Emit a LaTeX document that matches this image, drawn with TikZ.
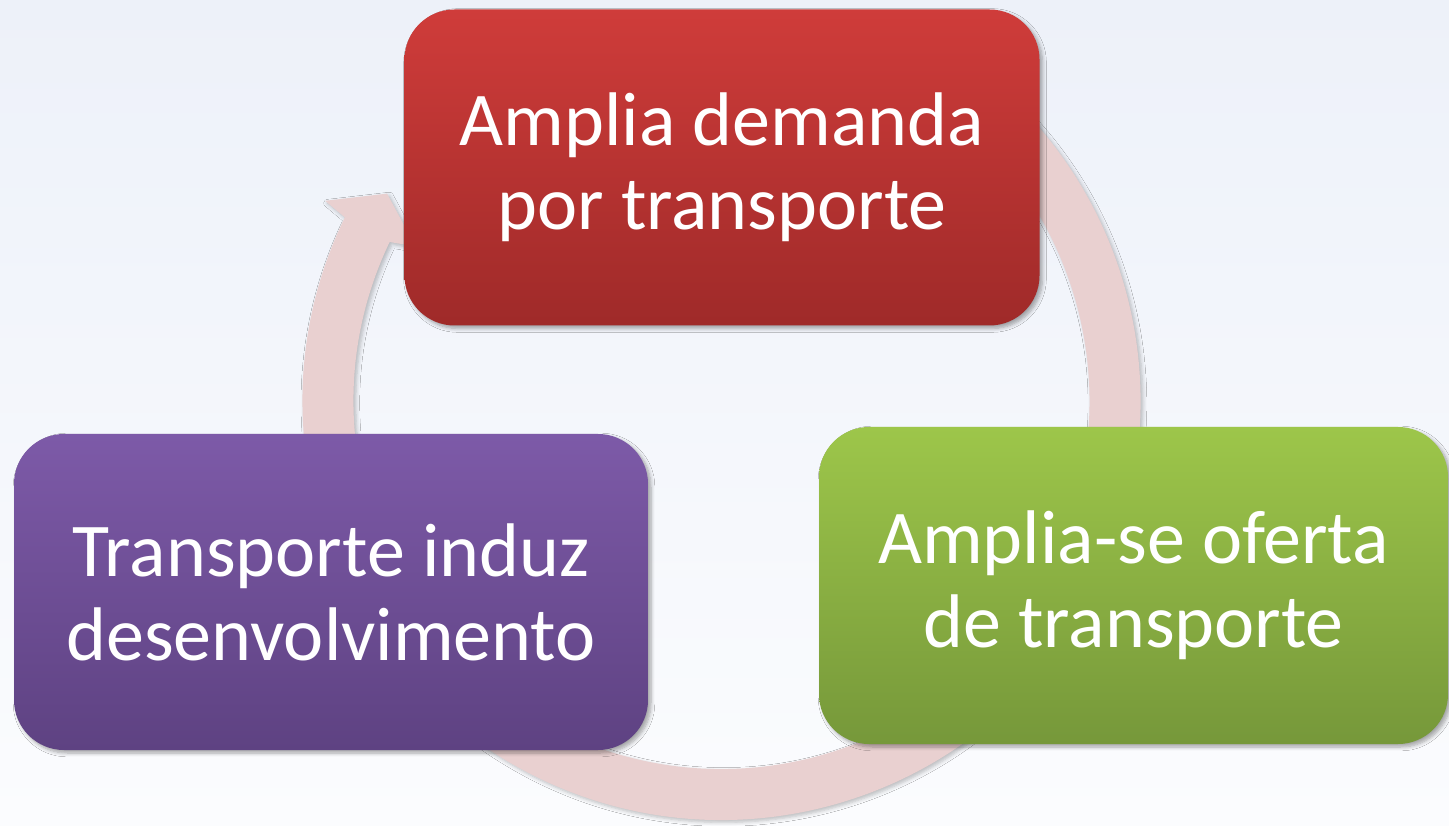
\documentclass[tikz,border=0pt]{standalone}
\usepackage{fontspec}
\setmainfont{Carlito}
\usetikzlibrary{shadows.blur}
\definecolor{bgT}{RGB}{237,241,249}
\definecolor{bgB}{RGB}{251,252,254}
\definecolor{ringc}{RGB}{233,208,208}
\definecolor{redT}{RGB}{207,60,58}
\definecolor{redB}{RGB}{159,42,41}
\definecolor{greenT}{RGB}{157,198,74}
\definecolor{greenB}{RGB}{118,152,58}
\definecolor{purpT}{RGB}{125,90,168}
\definecolor{purpB}{RGB}{94,66,130}
\tikzset{
  cyclebox/.style={rounded corners=25pt, inner sep=0pt, align=center, text=white,
    font=\fontsize{38}{42}\selectfont,
    blur shadow={shadow xshift=1.5pt, shadow yshift=-1.5pt, shadow blur steps=6, shadow opacity=35}},
  ringstyle/.style={fill=ringc,
    blur shadow={shadow xshift=1.2pt, shadow yshift=-1.2pt, shadow blur steps=5, shadow opacity=25}}
}
\begin{document}
\begin{tikzpicture}[x=0.5pt,y=0.5pt]
\useasboundingbox (0,0) rectangle (1449,825);
\shade[top color=bgT, bottom color=bgB] (0,0) rectangle (1449,825);
\coordinate (c) at (721.5,424);
\begin{scope}[shift={(c)}]
\path[ringstyle] (60:419) arc[start angle=60, end angle=-206, radius=419]
  -- (-206.8:444) -- (-211.8:393.5) -- (-206.8:343) -- (-205.6:368)
  arc[start angle=-205.6, end angle=60, radius=368] -- cycle;
\end{scope}
\node[cyclebox, top color=redT, bottom color=redB, minimum width=317.5pt, minimum height=158pt]
  (demand) at (722,657.5) {Amplia demanda\\por transporte};
\node[cyclebox, top color=greenT, bottom color=greenB, minimum width=314.5pt, minimum height=158.5pt]
  (supply) at (1133.5,239.5) {Amplia-se oferta\\de transporte};
\node[cyclebox, top color=purpT, bottom color=purpB, minimum width=317pt, minimum height=158pt]
  (devel) at (331,233) {Transporte induz\\desenvolvimento};
\end{tikzpicture}
\end{document}
